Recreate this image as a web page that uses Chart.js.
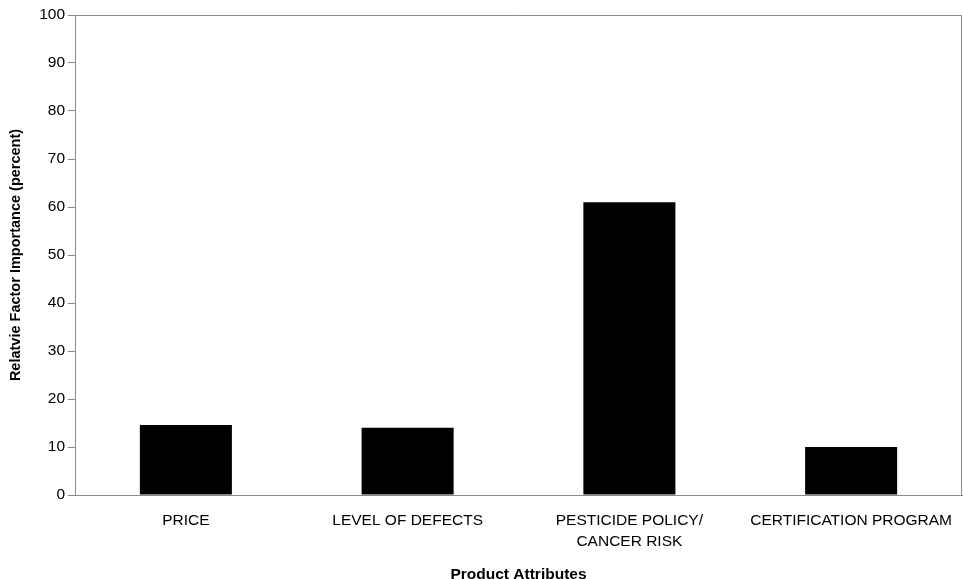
<!DOCTYPE html>
<html>
<head>
<meta charset="utf-8">
<style>
  html, body { margin: 0; padding: 0; background: #fff; }
  #wrap { width: 963px; height: 579px; }
</style>
<script src="https://cdn.jsdelivr.net/npm/chart.js@4/dist/chart.umd.min.js"></script>
</head>
<body>
<div id="wrap"><canvas id="c" width="963" height="579"></canvas></div>
<script>
const categories = ['PRICE', 'LEVEL OF DEFECTS', ['PESTICIDE POLICY/', 'CANCER RISK'], 'CERTIFICATION PROGRAM'];
const importance = [14.6, 14.0, 61.0, 10.0];
const yTicks = [0, 10, 20, 30, 40, 50, 60, 70, 80, 90, 100];

const axisGray = '#8a8a8a';
const fontFamily = '"Liberation Sans", Arial, sans-serif';

// outline the top and right edges of the plot area
const plotFrame = {
  id: 'plotFrame',
  afterDraw(chart) {
    const { ctx, chartArea: a } = chart;
    ctx.save();
    ctx.strokeStyle = axisGray;
    ctx.lineWidth = 1;
    ctx.beginPath();
    ctx.moveTo(a.left, a.top + 0.5);
    ctx.lineTo(a.right - 0.5, a.top + 0.5);
    ctx.lineTo(a.right - 0.5, a.bottom);
    ctx.stroke();
    ctx.restore();
  }
};

new Chart(document.getElementById('c'), {
  type: 'bar',
  data: {
    labels: categories,
    datasets: [{
      data: importance,
      backgroundColor: '#000',
      borderWidth: 0,
      categoryPercentage: 1,
      barPercentage: 0.415
    }]
  },
  options: {
    responsive: false,
    animation: false,
    layout: { padding: { left: 0, right: 1, top: 15, bottom: 0 } },
    plugins: { legend: { display: false }, tooltip: { enabled: false } },
    scales: {
      x: {
        grid: { display: false, drawTicks: false },
        border: { color: axisGray, width: 1 },
        ticks: {
          color: '#000',
          font: { family: fontFamily, size: 15.5, lineHeight: 1.3 },
          padding: 16,
          maxRotation: 0,
          autoSkip: false
        },
        title: {
          display: true,
          text: 'Product Attributes',
          color: '#000',
          font: { family: fontFamily, size: 15.5, weight: 'bold' },
          padding: { top: 18, bottom: -5 }
        },
        afterFit(scale) {
          scale.height = 84;
          // let the long last label run into the right margin
          scale.paddingLeft = 0;
          scale.paddingRight = 0;
        }
      },
      y: {
        min: 0,
        max: 100,
        afterBuildTicks(scale) { scale.ticks = yTicks.map(v => ({ value: v })); },
        grid: { display: true, drawOnChartArea: false, drawTicks: true, tickLength: 7, color: axisGray },
        border: { color: axisGray, width: 1 },
        ticks: {
          color: '#000',
          font: { family: fontFamily, size: 15.5 },
          padding: 3
        },
        title: {
          display: true,
          text: 'Relatvie Factor Importance (percent)',
          color: '#000',
          font: { family: fontFamily, size: 14.5, weight: 'bold' },
          padding: { top: 7, bottom: 6 }
        },
        afterFit(scale) { scale.width = 75; }
      }
    }
  },
  plugins: [plotFrame]
});
</script>
</body>
</html>
